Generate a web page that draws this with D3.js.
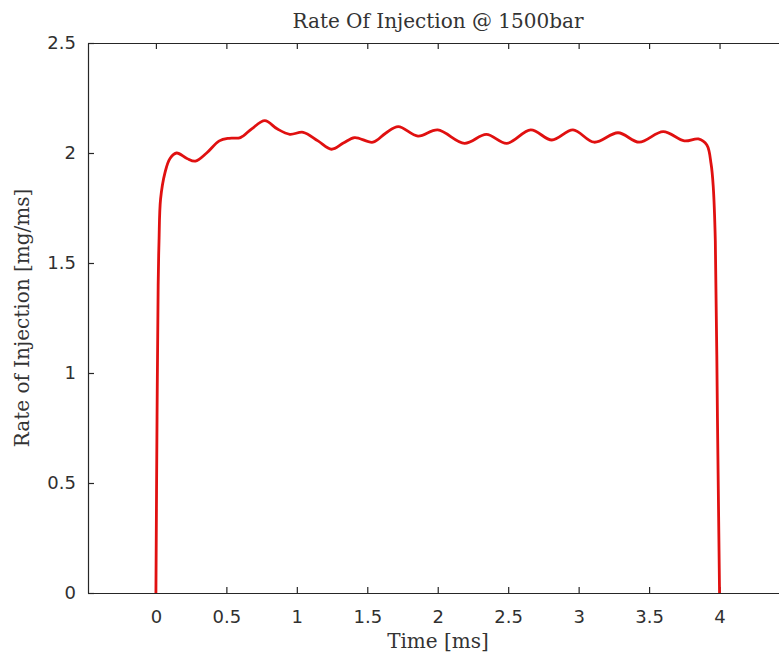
<!DOCTYPE html>
<html>
<head>
<meta charset="utf-8">
<script src="https://cdn.jsdelivr.net/npm/d3@7"></script>
<style>
    body { margin: 0; background: #fff; }
    svg { display: block; }
    .tick text { font-family: "DejaVu Sans", sans-serif; font-size: 18px; fill: #303030; }
    .axis path, .axis line { stroke: #262626; stroke-width: 1.2; }
    .lbl { font-family: "DejaVu Serif", serif; fill: #333; }
</style>
</head>
<body>
<svg id="chart" width="779" height="656"></svg>
<script>
// values
const timeMs = [0, 0.008, 0.016, 0.022, 0.033, 0.064, 0.1, 0.147, 0.22, 0.28, 0.36, 0.45, 0.52, 0.6, 0.68,
    0.773, 0.86, 0.95, 1.045, 1.15, 1.246, 1.33, 1.41, 1.54, 1.63, 1.72, 1.86, 2.0, 2.19, 2.345, 2.49,
    2.66, 2.81, 2.96, 3.11, 3.28, 3.43, 3.6, 3.75, 3.85, 3.91, 3.94, 3.955, 3.97, 3.985, 4.0];
const rateMgMs = [0, 0.8, 1.4, 1.6, 1.79, 1.91, 1.975, 2.0, 1.975, 1.963, 2.0, 2.055, 2.067, 2.07, 2.11,
    2.147, 2.11, 2.085, 2.094, 2.055, 2.017, 2.045, 2.07, 2.049, 2.09, 2.12, 2.077, 2.105, 2.044, 2.085, 2.044,
    2.105, 2.059, 2.105, 2.049, 2.092, 2.049, 2.097, 2.055, 2.064, 2.036, 1.95, 1.85, 1.6, 0.8, 0];
const xTicks = [0, 0.5, 1, 1.5, 2, 2.5, 3, 3.5, 4];
const yTicks = [0, 0.5, 1, 1.5, 2, 2.5];

const svg = d3.select("#chart");

const x = d3.scaleLinear().domain([-0.482, 4.5]).range([88, 790]);
const y = d3.scaleLinear().domain([0, 2.5]).range([593, 43]);

// bottom axis
svg.append("g")
    .attr("class", "axis")
    .attr("transform", "translate(0,593)")
    .call(d3.axisBottom(x).tickValues(xTicks).tickFormat(d3.format("")).tickSizeInner(-6).tickSizeOuter(0).tickPadding(17));

// top axis (ticks only)
svg.append("g")
    .attr("class", "axis")
    .attr("transform", "translate(0,43)")
    .call(d3.axisTop(x).tickValues(xTicks).tickFormat("").tickSizeInner(-6).tickSizeOuter(0));

// left axis
svg.append("g")
    .attr("class", "axis")
    .attr("transform", "translate(88,0)")
    .call(d3.axisLeft(y).tickValues(yTicks).tickFormat(d3.format("")).tickSizeInner(-6).tickSizeOuter(0).tickPadding(12));

// right axis (falls outside the window, like the reference)
svg.append("g")
    .attr("class", "axis")
    .attr("transform", "translate(790,0)")
    .call(d3.axisRight(y).tickValues(yTicks).tickFormat("").tickSizeInner(-6).tickSizeOuter(0));

// the curve
const pts = timeMs.map((t, i) => ({ t: t, r: rateMgMs[i] }));
const line = d3.line()
    .x(d => x(d.t))
    .y(d => y(d.r))
    .curve(d3.curveCatmullRom.alpha(0.5));

svg.append("path")
    .datum(pts)
    .attr("fill", "none")
    .attr("stroke", "#e01010")
    .attr("stroke-width", 2.8)
    .attr("stroke-linejoin", "round")
    .attr("d", line);

// labels
svg.append("text")
    .attr("class", "lbl")
    .attr("x", 438)
    .attr("y", 28)
    .attr("text-anchor", "middle")
    .style("font-size", "20px")
    .text("Rate Of Injection @ 1500bar");

svg.append("text")
    .attr("class", "lbl")
    .attr("x", 438)
    .attr("y", 648)
    .attr("text-anchor", "middle")
    .style("font-size", "20px")
    .text("Time [ms]");

svg.append("text")
    .attr("class", "lbl")
    .attr("transform", "translate(29,318) rotate(-90)")
    .attr("text-anchor", "middle")
    .style("font-size", "20px")
    .text("Rate of Injection [mg/ms]");
</script>
</body>
</html>
